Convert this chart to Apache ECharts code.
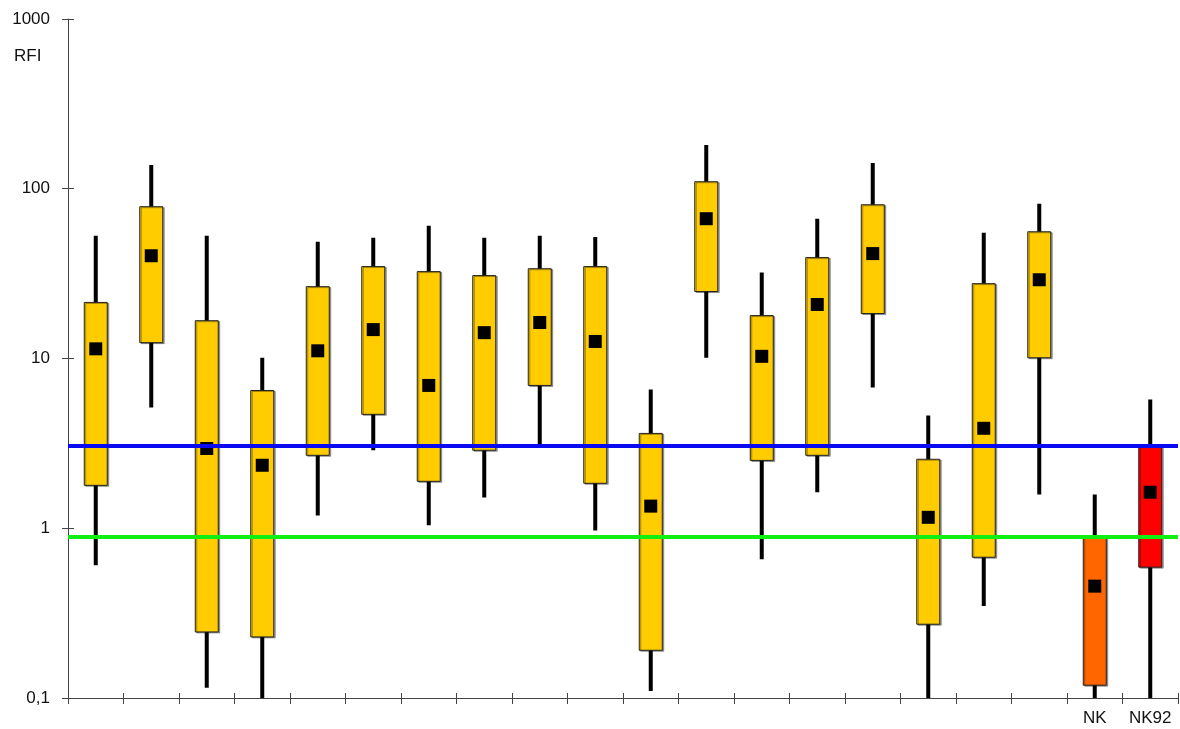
<!DOCTYPE html>
<html>
<head>
<meta charset="utf-8">
<script src="https://cdn.jsdelivr.net/npm/echarts@6/dist/echarts.min.js"></script>
<style>
  html, body { margin: 0; padding: 0; background: #fff; }
  #chart { width: 1180px; height: 729px; }
</style>
</head>
<body>
<div id="chart"></div>
<script>
// Category labels (only the two reference cell lines are named)
const categories = ['', '', '', '', '', '', '', '', '', '', '', '', '', '', '', '', '', '', 'NK', 'NK92'];

// Per-sample RFI statistics
const whiskerHigh = [52.9, 138, 52.9, 10.1, 48.8, 51.5, 60.6, 51.5, 52.9, 52, 6.57, 181, 32.1, 66.6, 142, 4.62, 55.1, 81.6, 1.58, 5.74];
const boxHigh     = [21.4, 78.4, 16.7, 6.48, 26.5, 34.8, 32.5, 30.8, 33.8, 34.8, 3.62, 110, 17.9, 39.3, 80.5, 2.55, 27.6, 55.8, 0.885, 3.04];
const medians     = [11.4, 40.3, 2.95, 2.35, 11.1, 14.8, 6.94, 14.2, 16.3, 12.6, 1.35, 66.6, 10.3, 20.8, 41.5, 1.16, 3.88, 29.1, 0.456, 1.63];
const boxLow      = [1.79, 12.4, 0.245, 0.229, 2.69, 4.69, 1.89, 2.88, 6.94, 1.84, 0.191, 24.8, 2.51, 2.69, 18.4, 0.272, 0.675, 10.1, 0.119, 0.590];
const whiskerLow  = [0.606, 5.15, 0.115, 0.1, 1.19, 2.88, 1.04, 1.52, 3.08, 0.97, 0.11, 10.1, 0.657, 1.63, 6.75, 0.1, 0.348, 1.58, 0.1, 0.1];

// Reference thresholds
const upperThreshold = 3.08;
const lowerThreshold = 0.885;

const boxColors = categories.map(c => c === 'NK' ? '#FF6600' : c === 'NK92' ? '#FF0000' : '#FFCC00');

const seriesData = categories.map((c, i) => [i, whiskerLow[i], boxLow[i], medians[i], boxHigh[i], whiskerHigh[i]]);

const chart = echarts.init(document.getElementById('chart'));

function renderBox(params, api) {
  const i = api.value(0);
  const wLo = api.coord([i, api.value(1)]);
  const bLo = api.coord([i, api.value(2)]);
  const med = api.coord([i, api.value(3)]);
  const bHi = api.coord([i, api.value(4)]);
  const wHi = api.coord([i, api.value(5)]);
  const x = wLo[0];
  const boxW = 23, whiskW = 4, sq = 13;
  return {
    type: 'group',
    children: [
      { type: 'rect', shape: { x: x - whiskW / 2, y: wHi[1], width: whiskW, height: wLo[1] - wHi[1] },
        style: { fill: '#000' } },
      { type: 'rect', shape: { x: x - boxW / 2, y: bHi[1], width: boxW, height: bLo[1] - bHi[1] },
        style: { fill: boxColors[i], stroke: '#222', lineWidth: 1,
                 shadowColor: 'rgba(0,0,0,0.35)', shadowOffsetX: 1.5, shadowOffsetY: 1, shadowBlur: 0 } },
      { type: 'rect', shape: { x: x - sq / 2, y: med[1] - sq / 2, width: sq, height: sq },
        style: { fill: '#000' } }
    ]
  };
}

const fontFam = 'Liberation Sans, Arial, sans-serif';

chart.setOption({
  animation: false,
  backgroundColor: '#fff',
  grid: { left: 68, right: 2, top: 19, bottom: 31 },
  xAxis: [{
    type: 'category',
    data: categories,
    boundaryGap: true,
    axisLine: { lineStyle: { color: '#444', width: 1 } },
    axisTick: { show: true, alignWithLabel: false, length: 6, lineStyle: { color: '#444' } },
    axisLabel: { color: '#111', fontSize: 17, fontFamily: fontFam, margin: 12, interval: 0 },
    splitLine: { show: false }
  }, {
    type: 'category',
    data: categories,
    position: 'bottom',
    boundaryGap: true,
    axisLine: { show: false },
    axisTick: { show: true, inside: true, length: 5, lineStyle: { color: '#444' } },
    axisLabel: { show: false },
    splitLine: { show: false }
  }],
  yAxis: [{
    type: 'log',
    logBase: 10,
    min: 0.1,
    max: 1000,
    axisLine: { show: true, lineStyle: { color: '#444', width: 1 } },
    axisTick: { show: true, length: 6, lineStyle: { color: '#444' } },
    axisLabel: {
      color: '#111', fontSize: 17, fontFamily: fontFam, margin: 18,
      formatter: v => v < 1 ? String(v).replace('.', ',') : String(Math.round(v))
    },
    splitLine: { show: false }
  }, {
    type: 'log',
    logBase: 10,
    min: 0.1,
    max: 1000,
    position: 'left',
    axisLine: { show: false },
    axisTick: { show: true, inside: true, length: 6, lineStyle: { color: '#444' } },
    axisLabel: { show: false },
    splitLine: { show: false }
  }],
  graphic: [{
    type: 'text', left: 14, top: 48,
    style: { text: 'RFI', fontSize: 17, fontFamily: fontFam, fill: '#111' }
  }],
  series: [{
    type: 'custom',
    renderItem: renderBox,
    data: seriesData,
    encode: { x: 0, y: [1, 2, 3, 4, 5] },
    z: 2,
    markLine: {
      silent: true,
      symbol: 'none',
      label: { show: false },
      z: 10,
      data: [
        { yAxis: upperThreshold, lineStyle: { color: '#0A0AF0', width: 4, type: 'solid' } },
        { yAxis: lowerThreshold, lineStyle: { color: '#11EE11', width: 4, type: 'solid' } }
      ]
    }
  }]
});
</script>
</body>
</html>
